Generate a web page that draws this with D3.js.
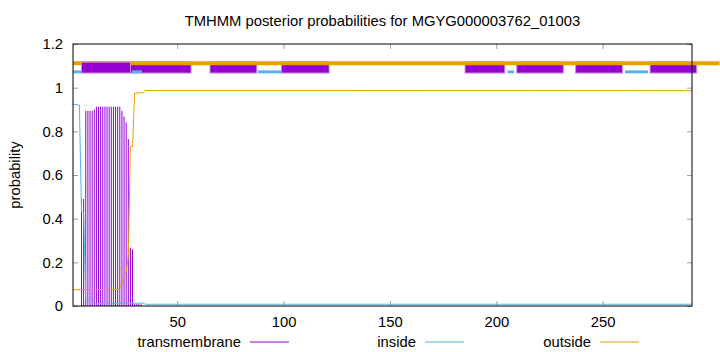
<!DOCTYPE html>
<html>
<head>
<meta charset="utf-8">
<script src="https://cdn.jsdelivr.net/npm/d3@7"></script>
<style>
  body { margin: 0; background: #fff; }
  svg text { font-family: "Liberation Sans", Arial, sans-serif; fill: #000; }
</style>
</head>
<body>
<svg id="svg" width="720" height="352"></svg>
<script>
// per-residue TM probability (impulses), only non-zero residues
const tmResidues = [5, 6, 7, 8, 9, 10, 11, 12, 13, 14, 15, 16, 17, 18, 19, 20, 21, 22, 23, 24, 25, 26, 27, 28, 29, 30, 31, 32, 33]
const tmValues = [0.49, 0.49, 0.894, 0.894, 0.894, 0.894, 0.9, 0.913, 0.913, 0.913, 0.913, 0.913, 0.913, 0.913, 0.913, 0.913, 0.913, 0.913, 0.913, 0.894, 0.868, 0.841, 0.765, 0.267, 0.26, 0.01, 0.01, 0.01, 0.008]

// inside / outside curves, breakpoints
const insideX = [1, 4, 5, 6, 7, 10, 11, 12, 30, 34, 35, 292]
const insideY = [0.925, 0.92, 0.43, 0.43, 0.031, 0.031, 0.02, 0.01, 0.013, 0.013, 0.008, 0.008]
const outsideX = [1, 22, 23, 24, 25, 26, 27, 28, 29, 30, 34, 35, 292]
const outsideY = [0.075, 0.075, 0.085, 0.1, 0.13, 0.155, 0.23, 0.73, 0.73, 0.975, 0.977, 0.987, 0.986]

// predicted topology along the top
const tmSegments = [[5, 28], [28, 56.5], [65.4, 87.4], [99, 121.4], [185.3, 204], [209.6, 231.5], [237.3, 259.3], [272.3, 294.2]]
const insideSegments = [[1, 5.2], [28.7, 33.4], [88, 98.8], [205.3, 208.3], [260.5, 271.3]]
const outsideSegments = [[1, 305]]

const xTicks = [50, 100, 150, 200, 250]
const yTicks = [0, 0.2, 0.4, 0.6, 0.8, 1, 1.2]
const yTickLabels = ['0', '0.2', '0.4', '0.6', '0.8', '1', '1.2']
const legendNames = ['transmembrane', 'inside', 'outside']

const margin = { top: 44, right: 28, bottom: 46, left: 73 }
const width = 720 - (margin.left + margin.right)
const height = 352 - (margin.top + margin.bottom)
const fontSize = '14.8px'

const purple = '#9400d3'
const blue = '#56b4e9'
const orange = '#e69f00'

const xScale = d3.scaleLinear()
  .domain([1, 292])
  .range([margin.left, margin.left + width])

const yScale = d3.scaleLinear()
  .domain([0, 1.2])
  .range([margin.top + height, margin.top])

const svg = d3.select('#svg')

svg.append('text')
  .text('TMHMM posterior probabilities for MGYG000003762_01003')
  .attr('x', margin.left + width / 2)
  .attr('y', 26)
  .attr('text-anchor', 'middle')
  .style('font-size', fontSize)

svg.append('text')
  .text('probability')
  .attr('transform', `translate(20, ${margin.top + height / 2}) rotate(-90)`)
  .attr('text-anchor', 'middle')
  .style('font-size', fontSize)

// axes with inward grey ticks
const leftAxis = d3.axisLeft(yScale).tickValues(yTicks)
  .tickFormat((d, i) => yTickLabels[i]).tickSizeInner(-5).tickSizeOuter(0).tickPadding(10)
const rightAxis = d3.axisRight(yScale).tickValues(yTicks).tickFormat('').tickSizeInner(-5).tickSizeOuter(0)
const bottomAxis = d3.axisBottom(xScale).tickValues(xTicks).tickSizeInner(-5).tickSizeOuter(0).tickPadding(10)
const topAxis = d3.axisTop(xScale).tickValues(xTicks).tickFormat('').tickSizeInner(-5).tickSizeOuter(0)

const axes = [
  [leftAxis, `translate(${margin.left}, 0)`],
  [rightAxis, `translate(${margin.left + width}, 0)`],
  [bottomAxis, `translate(0, ${margin.top + height})`],
  [topAxis, `translate(0, ${margin.top})`]
]
axes.forEach(([axis, t]) => {
  const g = svg.append('g').attr('transform', t).call(axis)
  g.select('.domain').remove()
  g.selectAll('line').attr('stroke', '#a0a0a0')
  g.selectAll('text').style('font-size', fontSize).attr('font-family', null)
})

svg.append('defs').append('clipPath').attr('id', 'plotClip')
  .append('rect')
  .attr('x', margin.left).attr('y', margin.top)
  .attr('width', width).attr('height', height)

const plot = svg.append('g').attr('clip-path', 'url(#plotClip)')

// impulses
plot.selectAll('line.tm')
  .data(tmResidues)
  .enter()
  .append('line')
  .attr('class', 'tm')
  .attr('x1', d => xScale(d))
  .attr('x2', d => xScale(d))
  .attr('y1', yScale(0))
  .attr('y2', (d, i) => yScale(tmValues[i]))
  .attr('stroke', purple)
  .attr('stroke-width', 1)

const line = d3.line().x(d => xScale(d[0])).y(d => yScale(d[1]))

plot.append('path')
  .datum(insideX.map((x, i) => [x, insideY[i]]))
  .attr('d', line)
  .attr('fill', 'none')
  .attr('stroke', blue)
  .attr('stroke-width', 1)

plot.append('path')
  .datum(outsideX.map((x, i) => [x, outsideY[i]]))
  .attr('d', line)
  .attr('fill', 'none')
  .attr('stroke', orange)
  .attr('stroke-width', 1)

// topology bars (not clipped, the outside line runs past the frame)
const topBars = svg.append('g')
const drawBox = (sel) => sel
  .attr('x', d => xScale(d[0]))
  .attr('width', d => xScale(d[1]) - xScale(d[0]))
  .attr('y', yScale(1.117))
  .attr('height', yScale(1.067) - yScale(1.117))
  .attr('fill', purple)
  .attr('stroke', '#c98be8')
  .attr('stroke-width', 1)

topBars.selectAll('rect.tm2')
  .data(tmSegments.slice(1))
  .enter()
  .append('rect')
  .call(drawBox)

topBars.selectAll('line.ins')
  .data(insideSegments)
  .enter()
  .append('line')
  .attr('x1', d => xScale(d[0]))
  .attr('x2', d => xScale(d[1]))
  .attr('y1', yScale(1.0725))
  .attr('y2', yScale(1.0725))
  .attr('stroke', blue)
  .attr('stroke-width', 3)

topBars.selectAll('line.out')
  .data(outsideSegments)
  .enter()
  .append('line')
  .attr('x1', d => xScale(d[0]))
  .attr('x2', d => xScale(d[1]))
  .attr('y1', yScale(1.112))
  .attr('y2', yScale(1.112))
  .attr('stroke', orange)
  .attr('stroke-width', 4)

topBars.selectAll('rect.tm1')
  .data(tmSegments.slice(0, 1))
  .enter()
  .append('rect')
  .call(drawBox)

svg.append('rect')
  .attr('x', margin.left).attr('y', margin.top)
  .attr('width', width).attr('height', height)
  .attr('fill', 'none')
  .attr('stroke', '#000')
  .attr('stroke-width', 1)

// legend along the bottom
const legendX = [241, 416, 591]
const legendColors = [purple, blue, orange]
const legend = svg.append('g')
legendNames.forEach((name, i) => {
  legend.append('text')
    .text(name)
    .attr('x', legendX[i])
    .attr('y', 347)
    .attr('text-anchor', 'end')
    .style('font-size', fontSize)
  legend.append('line')
    .attr('x1', legendX[i] + 9).attr('x2', legendX[i] + 48)
    .attr('y1', 342).attr('y2', 342)
    .attr('stroke', legendColors[i])
    .attr('stroke-width', 1)
})
</script>
</body>
</html>
